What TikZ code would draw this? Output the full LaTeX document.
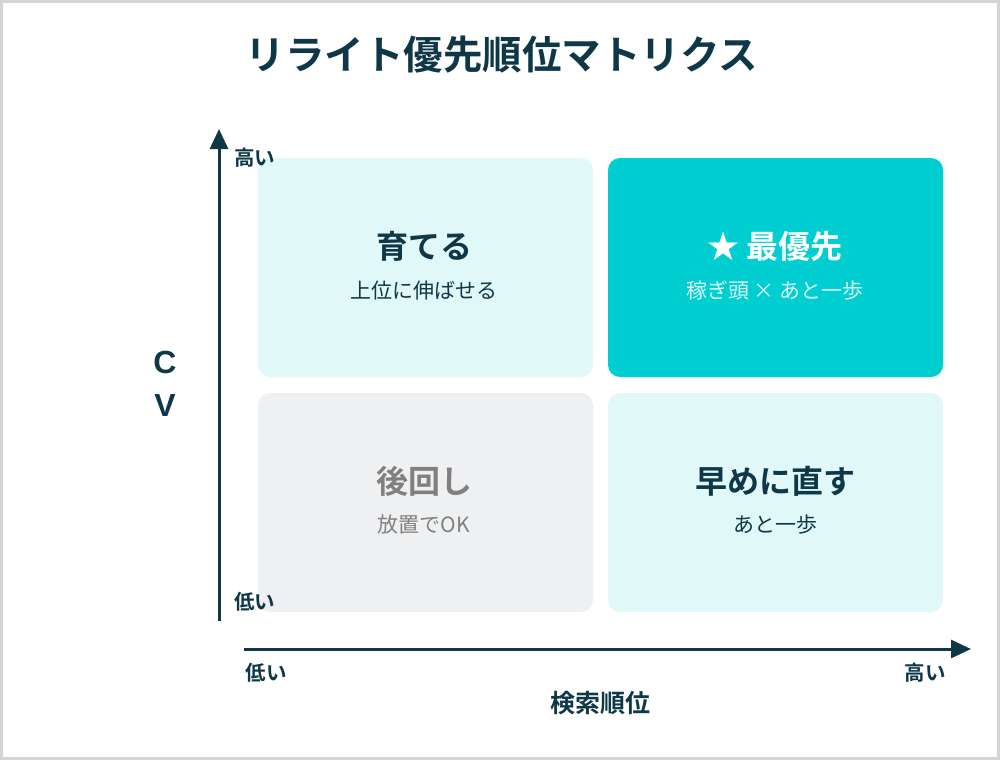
\documentclass[tikz,border=0pt]{standalone}
\usepackage{fontspec}
\setmainfont{Noto Sans CJK JP}[BoldFont={Noto Sans CJK JP Bold}]
\newfontfamily\latinbold{Liberation Sans}[UprightFont={* Bold}]
\usetikzlibrary{arrows.meta}
\definecolor{ink}{HTML}{0E3847}
\definecolor{framegray}{HTML}{D4D4D4}
\definecolor{paleteal}{HTML}{E0F8F8}
\definecolor{teal}{HTML}{00CED1}
\definecolor{palegray}{HTML}{EFF0F2}
\definecolor{mutedgray}{HTML}{808080}
\definecolor{subwhite}{HTML}{DDF9F9}
\tikzset{
  cell/.style={rounded corners=12pt, minimum width=335pt, minimum height=219pt, inner sep=0pt, draw=none},
  headline/.style={font=\fontsize{32}{36}\selectfont\bfseries},
  subline/.style={font=\fontsize{21}{25}\selectfont},
  axislabel/.style={font=\fontsize{20.5}{24}\selectfont\bfseries, text=ink, inner sep=0pt},
  axis/.style={draw=ink, line width=3pt, -{Triangle[length=20pt, width=18pt]}},
}
\begin{document}
\begin{tikzpicture}[x=1pt, y=-1pt]
  % page frame
  \useasboundingbox (0,0) rectangle (1000,760);
  \draw[framegray, line width=3pt] (1.5,1.5) rectangle (998.5,758.5);

  % title
  \node[font=\fontsize{39.5}{44}\selectfont\bfseries, text=ink] (title) at (502,55) {リライト優先順位マトリクス};

  % quadrants
  \node[cell, fill=paleteal] (grow) at (425.5,267.5) {};
  \node[cell, fill=teal] (top) at (775.5,267.5) {};
  \node[cell, fill=palegray] (later) at (425.5,502.5) {};
  \node[cell, fill=paleteal] (soon) at (775.5,502.5) {};

  \node[headline, text=ink] (growh) at (424,246) {育てる};
  \node[subline, text=ink] (grows) at (424,291) {上位に伸ばせる};
  \node[headline, text=white] (toph) at (775,246) {★ 最優先};
  \node[subline, text=subwhite] (tops) at (775,291) {稼ぎ頭 × あと一歩};
  \node[headline, text=mutedgray] (laterh) at (424,481) {後回し};
  \node[subline, text=mutedgray] (laters) at (424,525) {放置でOK};
  \node[headline, text=ink] (soonh) at (775,481) {早めに直す};
  \node[subline, text=ink] (soons) at (775,525) {あと一歩};

  % axes
  \coordinate (yfoot) at (219,621);
  \coordinate (ytip) at (219,129);
  \coordinate (xfoot) at (244,649);
  \coordinate (xtip) at (971,649);
  \draw[axis] (yfoot) -- (ytip);
  \draw[axis] (xfoot) -- (xtip);

  \node[axislabel] (yhigh) at (254.5,158) {高い};
  \node[axislabel] (ylow) at (254.5,602) {低い};
  \node[axislabel] (xlow) at (266,673) {低い};
  \node[axislabel] (xhigh) at (925,673) {高い};
  \node[font=\fontsize{25}{29}\selectfont\bfseries, text=ink] (xname) at (600,703) {検索順位};
  \node[font=\latinbold\fontsize{32}{43}\selectfont, text=ink, align=center] (yname) at (165,384) {C\\V};
\end{tikzpicture}
\end{document}
